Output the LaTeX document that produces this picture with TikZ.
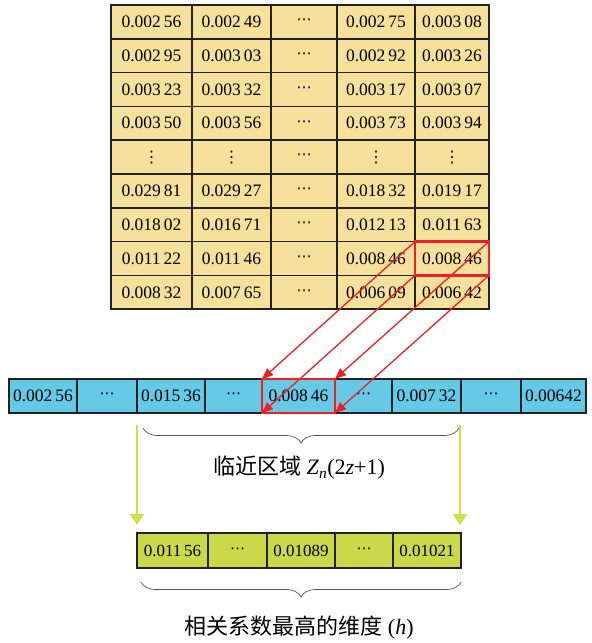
\documentclass[tikz,border=0pt]{standalone}
\usepackage{fontspec}
\setmainfont{Liberation Serif}
\newfontfamily\cjk{Noto Sans CJK SC}
\newfontfamily\djv{DejaVu Sans}
\usetikzlibrary{arrows.meta,decorations.pathreplacing}
\definecolor{tabY}{HTML}{F5E19B}
\definecolor{rowB}{HTML}{66C9E5}
\definecolor{rowG}{HTML}{CAD84A}
\definecolor{arrG}{HTML}{D0DD4C}
\definecolor{redL}{HTML}{EE1F25}
\definecolor{edge}{HTML}{222222}
\definecolor{braceC}{HTML}{555555}
\newcommand\myvd{{\djv\fontsize{16}{18}\selectfont ⋮}}
\newcommand\mycd{{\djv\fontsize{15}{18}\selectfont ⋯}}
\tikzset{
  cellbase/.style={draw=edge, line width=1.6pt, inner sep=0pt, outer sep=0pt, font=\fontsize{17.5}{19}\selectfont},
  tcell/.style={cellbase, fill=tabY, minimum height=33.8pt},
  bcell/.style={cellbase, fill=rowB, minimum height=34pt},
  gcell/.style={cellbase, fill=rowG, minimum height=35pt, font=\fontsize{17}{19}\selectfont},
  redbox/.style={draw=redL, line width=2.4pt, inner sep=0pt, outer sep=0pt},
  redarrow/.style={draw=redL, line width=1.3pt, -{Triangle[length=11pt,width=9pt]}},
  greenarrow/.style={draw=arrG, line width=2pt, -{Triangle[length=11pt,width=14pt]}},
  bracestyle/.style={draw=braceC, line width=0.7pt, decorate, decoration={brace, amplitude=15pt}},
  labelstyle/.style={font=\fontsize{22}{24}\selectfont, inner sep=0pt}
}
\begin{document}
\begin{tikzpicture}[x=1pt,y=-1pt]
\useasboundingbox (0,0) rectangle (592,643);
% top table
\foreach \r/\ca/\cb/\cc/\cd/\ce in {
 1/0.002\thinspace56/0.002\thinspace49/\mycd/0.002\thinspace75/0.003\thinspace08,
 2/0.002\thinspace95/0.003\thinspace03/\mycd/0.002\thinspace92/0.003\thinspace26,
 3/0.003\thinspace23/0.003\thinspace32/\mycd/0.003\thinspace17/0.003\thinspace07,
 4/0.003\thinspace50/0.003\thinspace56/\mycd/0.003\thinspace73/0.003\thinspace94,
 5/\myvd/\myvd/\mycd/\myvd/\myvd,
 6/0.029\thinspace81/0.029\thinspace27/\mycd/0.018\thinspace32/0.019\thinspace17,
 7/0.018\thinspace02/0.016\thinspace71/\mycd/0.012\thinspace13/0.011\thinspace63,
 8/0.011\thinspace22/0.011\thinspace46/\mycd/0.008\thinspace46/0.008\thinspace46,
 9/0.008\thinspace32/0.007\thinspace65/\mycd/0.006\thinspace09/0.006\thinspace42}
{
 \pgfmathsetmacro\yc{5+33.8*(\r-0.5)}
 \node[tcell, minimum width=81pt] (t\r-1) at (151.5,\yc) {\ca};
 \node[tcell, minimum width=79pt] (t\r-2) at (231.5,\yc) {\cb};
 \node[tcell, minimum width=66pt] (t\r-3) at (304,\yc) {\cc};
 \node[tcell, minimum width=78pt] (t\r-4) at (376,\yc) {\cd};
 \node[tcell, minimum width=74pt] (t\r-5) at (452,\yc) {\ce};
}
\node[redbox, minimum width=74pt, minimum height=33.8pt] (rsrc) at (t8-5.center) {};
% blue row
\node[bcell, minimum width=68pt] (b1) at (43,396) {0.002\thinspace56};
\node[bcell, minimum width=60pt] (b2) at (107,396) {\mycd};
\node[bcell, minimum width=68pt] (b3) at (171,396) {0.015\thinspace36};
\node[bcell, minimum width=57pt] (b4) at (233.5,396) {\mycd};
\node[bcell, minimum width=73pt] (b5) at (298.5,396) {0.008\thinspace46};
\node[bcell, minimum width=57pt] (b6) at (363.5,396) {\mycd};
\node[bcell, minimum width=69pt] (b7) at (426.5,396) {0.007\thinspace32};
\node[bcell, minimum width=60pt] (b8) at (491,396) {\mycd};
\node[bcell, minimum width=65pt] (b9) at (553.5,396) {0.00642};
\node[redbox, minimum width=73pt, minimum height=34pt] (rdst) at (b5.center) {};
% red arrows
\draw[redarrow] (rsrc.north west) -- (rdst.north west);
\draw[redarrow] (rsrc.north east) -- (rdst.north east);
\draw[redarrow] (rsrc.south west) -- (rdst.south west);
\draw[redarrow] (rsrc.south east) -- (rdst.south east);
% brace 1 and label
\coordinate (br1a) at (459,428);
\coordinate (br1b) at (143,428);
\draw[bracestyle] (br1a) -- (br1b);
\node[labelstyle] (lab1) at (299,468) {{\cjk 临近区域} \textit{Z}\textsubscript{\textit{n}}(2\textit{z}+1)};
% green arrows
\coordinate (ga1) at (137,425);
\coordinate (gb1) at (137,525);
\coordinate (ga2) at (460,425);
\coordinate (gb2) at (460,525);
\draw[greenarrow] (ga1) -- (gb1);
\draw[greenarrow] (ga2) -- (gb2);
% green row
\node[gcell, minimum width=71pt] (g1) at (172.5,550.5) {0.011\thinspace56};
\node[gcell, minimum width=59pt] (g2) at (237.5,550.5) {\mycd};
\node[gcell, minimum width=68pt] (g3) at (301,550.5) {0.01089};
\node[gcell, minimum width=58pt] (g4) at (364,550.5) {\mycd};
\node[gcell, minimum width=68pt] (g5) at (427,550.5) {0.01021};
% brace 2 and label
\coordinate (br2a) at (461,582);
\coordinate (br2b) at (141,582);
\draw[bracestyle] (br2a) -- (br2b);
\node[labelstyle] (lab2) at (299,628) {{\cjk 相关系数最高的维度} (\textit{h})};
\end{tikzpicture}
\end{document}
